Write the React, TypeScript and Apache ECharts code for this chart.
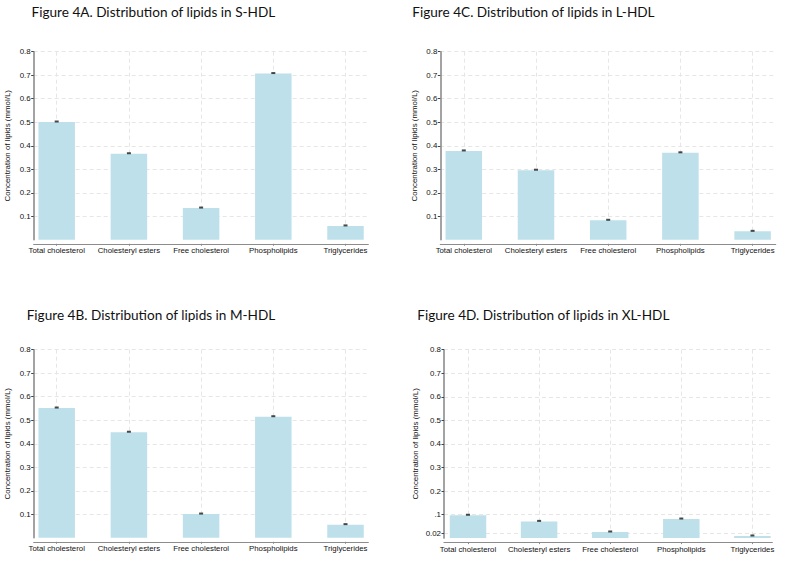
import React, { useEffect, useRef } from "react";
import * as echarts from "echarts";

const categories = ["Total cholesterol", "Cholesteryl esters", "Free cholesterol", "Phospholipids", "Triglycerides"];
const sHDL = [0.501, 0.366, 0.135, 0.707, 0.059];
const lHDL = [0.378, 0.296, 0.083, 0.370, 0.036];
const mHDL = [0.552, 0.449, 0.101, 0.515, 0.056];
const xlHDL = [0.097, 0.071, 0.026, 0.081, 0.009];
const yTicks = [0.1, 0.2, 0.3, 0.4, 0.5, 0.6, 0.7, 0.8];
const yTicksXL = [0.02, 0.1, 0.2, 0.3, 0.4, 0.5, 0.6, 0.7, 0.8];
const titles = [
  "Figure 4A. Distribution of lipids in S-HDL",
  "Figure 4C. Distribution of lipids in L-HDL",
  "Figure 4B. Distribution of lipids in M-HDL",
  "Figure 4D. Distribution of lipids in XL-HDL",
];
const yName = "Concentration of lipids (mmol/L)";

// layout of each panel (pixels)
const panels = [
  { data: sHDL, ticks: yTicks, axisX: 33.7, c0: 56.7, sp: 72.2, right: 368.3, top: 51.7, zero: 239.8, tx: 31.5, ty: 12, gap: 22 },
  { data: lHDL, ticks: yTicks, axisX: 440.3, c0: 463.8, sp: 72.2, right: 775.7, top: 51.7, zero: 239.8, tx: 412.3, ty: 12, gap: 22 },
  { data: mHDL, ticks: yTicks, axisX: 33.7, c0: 56.7, sp: 72.2, right: 368.3, top: 349.7, zero: 537.8, tx: 26.7, ty: 315, gap: 22 },
  { data: xlHDL, ticks: yTicksXL, axisX: 444, c0: 468, sp: 71.1, right: 772.3, top: 349.7, zero: 538.1, tx: 417.3, ty: 315, gap: 25 },
];

const FONT = "'Liberation Sans', Arial, Helvetica, sans-serif";
const axisGrey = "#8c8c8c";
const gridGrey = "#e6e6e6";

export default function App() {
  const ref = useRef<HTMLDivElement>(null);
  useEffect(() => {
    if (!ref.current) return;
    const chart = echarts.init(ref.current, null, { renderer: "svg" });
    const grid: any[] = [];
    const xAxis: any[] = [];
    const yAxis: any[] = [];
    const series: any[] = [];
    const graphic: any[] = [];
    panels.forEach((p, i) => {
      grid.push({ left: p.axisX, top: p.top, width: p.right - p.axisX, height: p.zero - p.top });
      xAxis.push({
        type: "value",
        gridIndex: i,
        min: -(p.c0 - p.axisX) / p.sp,
        max: (p.right - p.c0) / p.sp,
        offset: 4,
        axisLine: { show: true, onZero: false, lineStyle: { color: axisGrey, width: 1.2 } },
        axisTick: { show: true, length: 2, customValues: [0, 1, 2, 3, 4], lineStyle: { color: axisGrey } },
        axisLabel: {
          customValues: [0, 1, 2, 3, 4],
          formatter: (v: number) => categories[Math.round(v)] ?? "",
          fontSize: 7.8,
          fontFamily: FONT,
          color: "#111",
          margin: 3,
        },
        splitLine: { show: true, lineStyle: { color: gridGrey, type: [4, 3], width: 1 } },
      });
      yAxis.push({
        type: "value",
        gridIndex: i,
        min: 0,
        max: 0.8,
        name: yName,
        nameLocation: "middle",
        nameGap: p.gap,
        nameTextStyle: { fontSize: 7.9, fontFamily: FONT, color: "#111" },
        axisLine: { show: true, onZero: false, lineStyle: { color: axisGrey, width: 1.6 } },
        axisTick: { show: true, length: 2.5, customValues: p.ticks, lineStyle: { color: "#444" } },
        axisLabel: {
          customValues: p.ticks,
          formatter: (v: number) => (Math.abs(v - 0.1) < 1e-9 && p.ticks === yTicksXL ? ".1" : String(Math.round(v * 100) / 100)),
          fontSize: 7.9,
          fontFamily: FONT,
          color: "#111",
          margin: 3,
        },
        splitLine: { show: true, lineStyle: { color: gridGrey, type: [4, 3], width: 1 } },
      });
      series.push({
        type: "bar",
        xAxisIndex: i,
        yAxisIndex: i,
        barWidth: 36.5,
        itemStyle: { color: "#bee0ea" },
        data: p.data.map((v, k) => [k, v]),
      });
      series.push({
        type: "scatter",
        xAxisIndex: i,
        yAxisIndex: i,
        symbol: "rect",
        symbolSize: [4, 2],
        symbolOffset: [0, -0.5],
        itemStyle: { color: "#1a1a1a" },
        z: 5,
        data: p.data.map((v, k) => [k, v]),
      });
      graphic.push({
        type: "text",
        x: p.tx,
        y: p.ty,
        style: {
          text: titles[i],
          fontSize: 13.6,
          fontFamily: "Lato, 'Open Sans', sans-serif",
          fill: "#111",
          verticalAlign: "middle",
        },
      });
    });
    chart.setOption({
      animation: false,
      backgroundColor: "#ffffff",
      grid,
      xAxis,
      yAxis,
      series,
      graphic,
    });
    return () => chart.dispose();
  }, []);
  return (
    <div
      ref={ref}
      style={{ position: "fixed", left: 0, top: 0, width: 797, height: 567, background: "#fff" }}
    />
  );
}
